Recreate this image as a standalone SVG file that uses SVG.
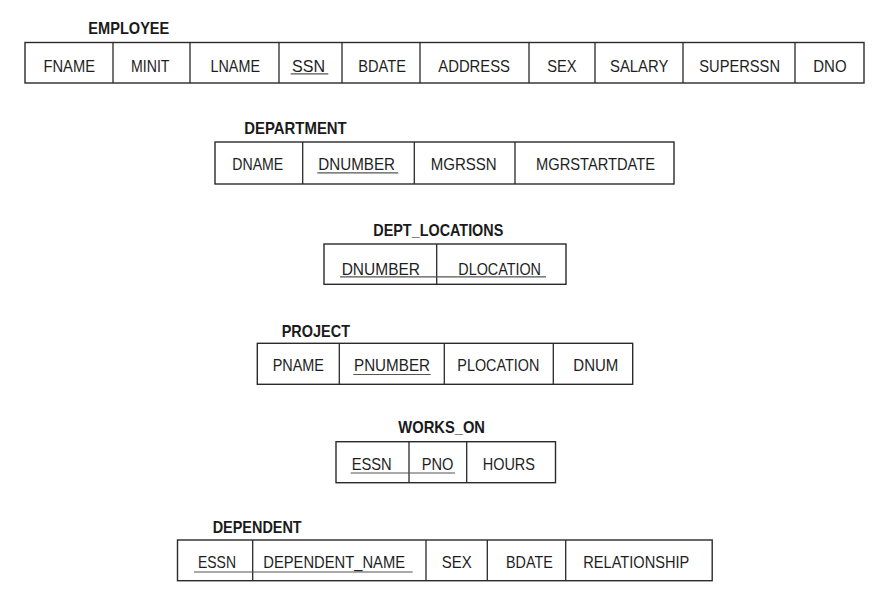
<svg xmlns="http://www.w3.org/2000/svg" width="888" height="607" viewBox="0 0 888 607">
<style>
.bg{fill:#ffffff}
.tbl{fill:none;stroke:#2a2a2a;stroke-width:1.4}
.div{stroke:#2a2a2a;stroke-width:1.3}
.ul{stroke:#555;stroke-width:1.2}
.t{font-family:"Liberation Sans",Arial,sans-serif;font-size:17px;fill:#1e1e1e}
.h{font-family:"Liberation Sans",Arial,sans-serif;font-size:16.5px;font-weight:bold;fill:#1a1a1a}
</style>
<rect class="bg" x="0" y="0" width="888" height="607"/>

<g id="employee">
<text class="h" x="88.3" y="34" textLength="81" lengthAdjust="spacingAndGlyphs">EMPLOYEE</text>
<rect class="tbl" x="25" y="42.5" width="839" height="40.5"/>
<path class="div" d="M113 42.5V83M190 42.5V83M279 42.5V83M342 42.5V83M420 42.5V83M529 42.5V83M595 42.5V83M683 42.5V83M795 42.5V83"/>
<text class="t" x="43.5" y="72" textLength="51.5" lengthAdjust="spacingAndGlyphs">FNAME</text>
<text class="t" x="131" y="72" textLength="38.5" lengthAdjust="spacingAndGlyphs">MINIT</text>
<text class="t" x="210.5" y="72" textLength="49.5" lengthAdjust="spacingAndGlyphs">LNAME</text>
<text class="t" x="292" y="72" textLength="33" lengthAdjust="spacingAndGlyphs">SSN</text>
<line class="ul" x1="290.7" y1="73.8" x2="328.3" y2="73.8"/>
<text class="t" x="358.3" y="72" textLength="47.7" lengthAdjust="spacingAndGlyphs">BDATE</text>
<text class="t" x="438.3" y="72" textLength="71.7" lengthAdjust="spacingAndGlyphs">ADDRESS</text>
<text class="t" x="547.3" y="72" textLength="29.3" lengthAdjust="spacingAndGlyphs">SEX</text>
<text class="t" x="610" y="72" textLength="58.3" lengthAdjust="spacingAndGlyphs">SALARY</text>
<text class="t" x="699.3" y="72" textLength="80.7" lengthAdjust="spacingAndGlyphs">SUPERSSN</text>
<text class="t" x="813.3" y="72" textLength="33.3" lengthAdjust="spacingAndGlyphs">DNO</text>
</g>

<g id="department">
<text class="h" x="244.3" y="134" textLength="102.4" lengthAdjust="spacingAndGlyphs">DEPARTMENT</text>
<rect class="tbl" x="215" y="142" width="459" height="42"/>
<path class="div" d="M302.7 142V184M414.3 142V184M515 142V184"/>
<text class="t" x="232.3" y="170" textLength="51" lengthAdjust="spacingAndGlyphs">DNAME</text>
<text class="t" x="318.3" y="170" textLength="76.7" lengthAdjust="spacingAndGlyphs">DNUMBER</text>
<line class="ul" x1="317.3" y1="172.8" x2="398.3" y2="172.8"/>
<text class="t" x="430.7" y="170" textLength="66" lengthAdjust="spacingAndGlyphs">MGRSSN</text>
<text class="t" x="536" y="170" textLength="119" lengthAdjust="spacingAndGlyphs">MGRSTARTDATE</text>
</g>

<g id="dept_locations">
<text class="h" x="373.3" y="236" textLength="130" lengthAdjust="spacingAndGlyphs">DEPT_LOCATIONS</text>
<rect class="tbl" x="324" y="244" width="242" height="40.3"/>
<path class="div" d="M436.7 244V284.3"/>
<text class="t" x="341.7" y="274.5" textLength="78.3" lengthAdjust="spacingAndGlyphs">DNUMBER</text>
<text class="t" x="458.3" y="274.5" textLength="82.7" lengthAdjust="spacingAndGlyphs">DLOCATION</text>
<line class="ul" x1="340" y1="276.8" x2="546" y2="276.8"/>
</g>

<g id="project">
<text class="h" x="281.7" y="337" textLength="68.3" lengthAdjust="spacingAndGlyphs">PROJECT</text>
<rect class="tbl" x="257.3" y="343.3" width="375.4" height="41"/>
<path class="div" d="M339.3 343.3V384.3M444.3 343.3V384.3M553.3 343.3V384.3"/>
<text class="t" x="272.7" y="371" textLength="51.3" lengthAdjust="spacingAndGlyphs">PNAME</text>
<text class="t" x="354" y="371" textLength="76" lengthAdjust="spacingAndGlyphs">PNUMBER</text>
<line class="ul" x1="353.3" y1="374.5" x2="430.7" y2="374.5"/>
<text class="t" x="457.3" y="371" textLength="82" lengthAdjust="spacingAndGlyphs">PLOCATION</text>
<text class="t" x="573.3" y="371" textLength="45" lengthAdjust="spacingAndGlyphs">DNUM</text>
</g>

<g id="works_on">
<text class="h" x="398.3" y="433" textLength="86.7" lengthAdjust="spacingAndGlyphs">WORKS_ON</text>
<rect class="tbl" x="336" y="441.7" width="219.5" height="41"/>
<path class="div" d="M409 441.7V482.7M466.7 441.7V482.7"/>
<text class="t" x="351.7" y="470" textLength="40" lengthAdjust="spacingAndGlyphs">ESSN</text>
<text class="t" x="421.7" y="470" textLength="31.7" lengthAdjust="spacingAndGlyphs">PNO</text>
<line class="ul" x1="350.7" y1="473" x2="455" y2="473"/>
<text class="t" x="482.7" y="470" textLength="52.3" lengthAdjust="spacingAndGlyphs">HOURS</text>
</g>

<g id="dependent">
<text class="h" x="212.7" y="533" textLength="89" lengthAdjust="spacingAndGlyphs">DEPENDENT</text>
<rect class="tbl" x="177.5" y="540" width="534.7" height="40.7"/>
<path class="div" d="M252.7 540V580.7M426 540V580.7M487.3 540V580.7M565.7 540V580.7"/>
<text class="t" x="198" y="568" textLength="38" lengthAdjust="spacingAndGlyphs">ESSN</text>
<text class="t" x="263.3" y="568" textLength="141.7" lengthAdjust="spacingAndGlyphs">DEPENDENT_NAME</text>
<line class="ul" x1="194" y1="572" x2="412.7" y2="572"/>
<text class="t" x="441.7" y="568" textLength="30" lengthAdjust="spacingAndGlyphs">SEX</text>
<text class="t" x="506" y="568" textLength="46.7" lengthAdjust="spacingAndGlyphs">BDATE</text>
<text class="t" x="583.3" y="568" textLength="106" lengthAdjust="spacingAndGlyphs">RELATIONSHIP</text>
</g>

<g id="connectors"></g>
</svg>
